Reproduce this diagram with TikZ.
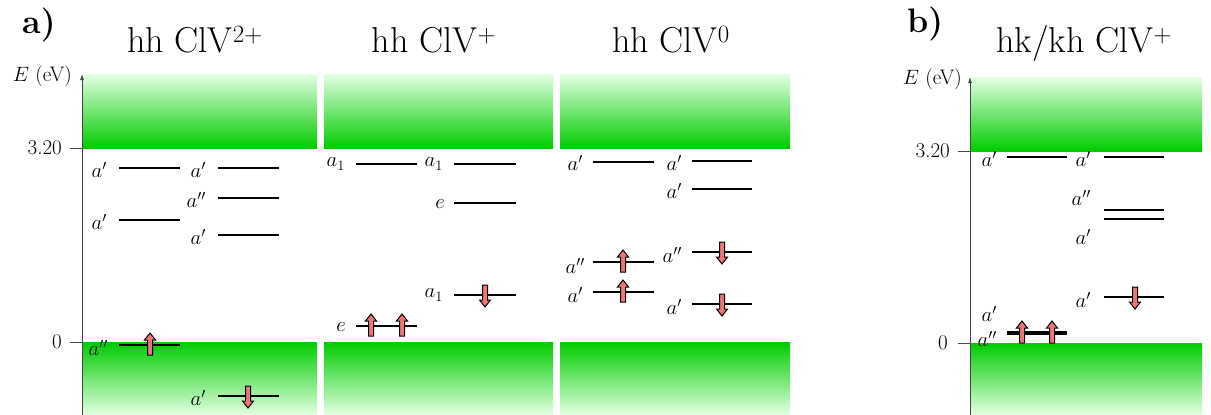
\documentclass[tikz,border=0pt]{standalone}
\usetikzlibrary{arrows.meta}
\definecolor{bandgreen}{RGB}{0,204,0}
\definecolor{bandlight}{RGB}{228,255,228}
\definecolor{spinfill}{RGB}{240,118,118}
\definecolor{axisgray}{RGB}{70,70,70}
\newcommand\spinup[2]{\draw[spinarrow] ({#1-2.5},{#2+10}) -- ({#1-2.5},{#2-5}) -- ({#1-5.5},{#2-5}) -- ({#1},{#2-12}) -- ({#1+5.5},{#2-5}) -- ({#1+2.5},{#2-5}) -- ({#1+2.5},{#2+10}) -- cycle;}
\newcommand\spindown[2]{\draw[spinarrow] ({#1-2.5},{#2-10}) -- ({#1-2.5},{#2+5}) -- ({#1-5.5},{#2+5}) -- ({#1},{#2+12}) -- ({#1+5.5},{#2+5}) -- ({#1+2.5},{#2+5}) -- ({#1+2.5},{#2-10}) -- cycle;}
\begin{document}
\begin{tikzpicture}[x=1pt,y=-1pt,
  cband/.style={top color=bandlight,bottom color=bandgreen,draw=none},
  vband/.style={top color=bandgreen,bottom color=bandlight,draw=none},
  level/.style={line width=1.6pt},
  axisline/.style={draw=axisgray,line width=0.8pt},
  spinarrow/.style={fill=spinfill,draw=black,line width=1pt,line join=miter},
  lab/.style={inner sep=0pt,anchor=east,font=\fontsize{21}{25}\selectfont},
  axlab/.style={inner sep=0pt,anchor=east,font=\fontsize{21}{25}\selectfont},
  ttl/.style={inner sep=0pt,anchor=base,font=\fontsize{36}{40}\selectfont},
  pan/.style={inner sep=0pt,anchor=base west,font=\fontsize{34}{40}\selectfont\bfseries}]
\useasboundingbox (0,0) rectangle (1211,415);
% bands panel a
\fill[cband] (82,74) rectangle (317,148);
\fill[cband] (324,74) rectangle (553,148);
\fill[cband] (560,74) rectangle (790,148);
\fill[vband] (82,342) rectangle (317,415);
\fill[vband] (324,342) rectangle (553,415);
\fill[vband] (560,342) rectangle (790,415);
% bands panel b
\fill[cband] (970,77) rectangle (1202,151);
\fill[vband] (970,343) rectangle (1202,415);
% axes
\coordinate (abot) at (82,415); \coordinate (atop) at (82,74);
\draw[axisline,-{Latex[length=6pt,width=4pt]}] (abot) -- (atop);
\draw[axisline] (70,148) -- (82,148);
\draw[axisline] (70,342) -- (82,342);
\node[axlab] (aE) at (72,76) {$E$ (eV)};
\node[axlab] (a320) at (62,148) {3.20};
\node[axlab] (a0) at (62,342) {0};
\coordinate (bbot) at (970,415); \coordinate (btop) at (970,77);
\draw[axisline,-{Latex[length=6pt,width=4pt]}] (bbot) -- (btop);
\draw[axisline] (958,151) -- (970,151);
\draw[axisline] (958,343) -- (970,343);
\node[axlab] (bE) at (962,79) {$E$ (eV)};
\node[axlab] (b320) at (950,151) {3.20};
\node[axlab] (b0) at (948,343) {0};
% titles
\node[pan] (pa) at (22,33) {a)};
\node[pan] (pb) at (907,32) {b)};
\node[ttl] (t1) at (195,52) {hh ClV$^{2+}$};
\node[ttl] (t2) at (434,52) {hh ClV$^{+}$};
\node[ttl] (t3) at (671,52) {hh ClV$^{0}$};
\node[ttl] (t4) at (1084,52) {hk/kh ClV$^{+}$};
% ---- panel a1: hh ClV2+
\draw[level] (119,168) -- (180,168); \node[lab] (l1) at (107,170) {$a'$};
\draw[level] (119,220) -- (180,220); \node[lab] (l2) at (107,222) {$a'$};
\draw[level] (119,345) -- (180,345); \node[lab] (l3) at (108,348) {$a''$};
\spinup{150}{345}
\draw[level] (218,168) -- (279,168); \node[lab] (l4) at (206,170) {$a'$};
\draw[level] (218,198) -- (279,198); \node[lab] (l5) at (206,200) {$a''$};
\draw[level] (218,235) -- (279,235); \node[lab] (l6) at (206,237) {$a'$};
\draw[level] (218,396) -- (279,396); \node[lab] (l7) at (206,398) {$a'$};
\spindown{248}{396}
% ---- panel a2: hh ClV+
\draw[level] (356,164) -- (417,164); \node[lab] (m1) at (345,164) {$a_1$};
\draw[level] (356,326) -- (417,326); \node[lab] (m2) at (346,327) {$e$};
\spinup{371}{326} \spinup{402}{326}
\draw[level] (454,164) -- (516,164); \node[lab] (m3) at (443,164) {$a_1$};
\draw[level] (454,203) -- (516,203); \node[lab] (m4) at (445,204) {$e$};
\draw[level] (454,295) -- (516,295); \node[lab] (m5) at (443,295) {$a_1$};
\spindown{485}{295}
% ---- panel a3: hh ClV0
\draw[level] (593,162) -- (654,162); \node[lab] (n1) at (583,163) {$a'$};
\draw[level] (593,262) -- (654,262); \node[lab] (n2) at (585,266) {$a''$};
\spinup{623}{262}
\draw[level] (593,292) -- (654,292); \node[lab] (n3) at (583,295) {$a'$};
\spinup{623}{292}
\draw[level] (692,161) -- (752,161); \node[lab] (n4) at (682,163) {$a'$};
\draw[level] (692,189) -- (752,189); \node[lab] (n5) at (682,191) {$a'$};
\draw[level] (692,252) -- (752,252); \node[lab] (n6) at (682,255) {$a''$};
\spindown{722}{252}
\draw[level] (692,304) -- (752,304); \node[lab] (n7) at (682,307) {$a'$};
\spindown{722}{304}
% ---- panel b: hk/kh ClV+
\draw[level] (1007,157) -- (1067,157); \node[lab] (k1) at (997,159) {$a'$};
\draw[level] (1007,332.2) -- (1067,332.2);
\draw[level] (1007,333.8) -- (1067,333.8);
\node[lab] (k2) at (997,314) {$a'$};
\node[lab] (k3) at (997,339) {$a''$};
\spinup{1022}{333} \spinup{1052}{333}
\draw[level] (1104,157) -- (1164,157); \node[lab] (k4) at (1091,159) {$a'$};
\draw[level] (1104,210) -- (1164,210);
\draw[level] (1104,219) -- (1164,219);
\node[lab] (k5) at (1091,198) {$a''$};
\node[lab] (k6) at (1091,237) {$a'$};
\draw[level] (1104,297) -- (1164,297); \node[lab] (k7) at (1091,300) {$a'$};
\spindown{1135}{297}
\end{tikzpicture}
\end{document}
